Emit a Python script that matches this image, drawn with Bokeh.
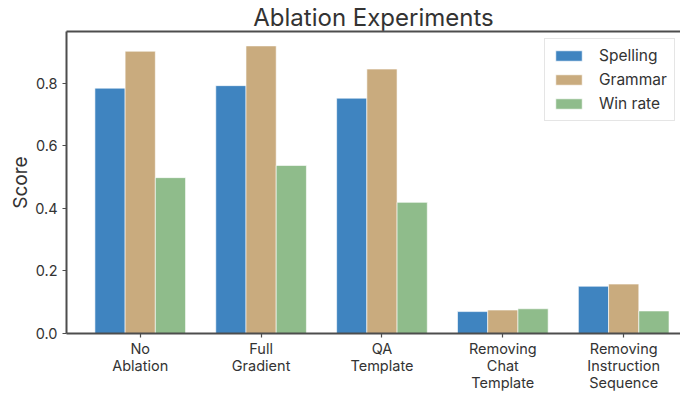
from bokeh.plotting import figure
from bokeh.models import ColumnDataSource, FixedTicker, Range1d, LinearAxis, Legend, LegendItem, PrintfTickFormatter
from bokeh.transform import dodge
from bokeh.embed import file_html
from bokeh.resources import INLINE

categories = ["No\nAblation", "Full\nGradient", "QA\nTemplate", "Removing\nChat\nTemplate", "Removing\nInstruction\nSequence"]
spelling = [0.784, 0.792, 0.752, 0.070, 0.151]
grammar = [0.902, 0.919, 0.845, 0.075, 0.158]
win_rate = [0.498, 0.537, 0.419, 0.079, 0.072]
series_names = ["Spelling", "Grammar", "Win rate"]
colors = ["#3f84c0", "#c9ab7e", "#8fbc8b"]
y_ticks = [0.0, 0.2, 0.4, 0.6, 0.8]

FONT = "Inter"
TXT = "#333333"
SPINE = "#4d4d4d"

idx = list(range(len(categories)))
src = ColumnDataSource(dict(x=idx, s=spelling, g=grammar, w=win_rate))

p = figure(width=680, height=393, output_backend="svg", toolbar_location=None,
           x_range=Range1d(-0.61, 4.47), y_range=Range1d(0, 0.965),
           title="Ablation Experiments")
p.min_border_left = 66
p.min_border_top = 0
p.min_border_bottom = 0
p.min_border_right = 0
p.outline_line_color = None
p.grid.visible = False
p.background_fill_color = "white"
p.border_fill_color = "white"

p.title.text_font = FONT
p.title.text_font_size = "24px"
p.title.text_font_style = "normal"
p.title.text_color = TXT
p.title.align = "center"
p.title.standoff = 0
p.title.offset = 12

bw = 0.25
renderers = []
for i, (col, c) in enumerate(zip(["s", "g", "w"], colors)):
    r = p.vbar(x=dodge("x", (i - 1) * bw, range=p.x_range), top=col, width=bw, bottom=0,
               source=src, fill_color=c, line_color="white", line_alpha=0.6, line_width=1)
    renderers.append(r)

xa = p.xaxis[0]
xa.ticker = FixedTicker(ticks=idx)
xa.major_label_overrides = {i: lab for i, lab in zip(idx, categories)}
ya = p.yaxis[0]
ya.ticker = FixedTicker(ticks=y_ticks)
ya.formatter = PrintfTickFormatter(format="%.1f")
ya.axis_label = "Score"
for ax in (xa, ya):
    ax.axis_line_color = SPINE
    ax.axis_line_width = 2
    ax.major_tick_line_color = SPINE
    ax.major_tick_line_width = 1.2
    ax.major_tick_out = 4
    ax.major_tick_in = 0
    ax.minor_tick_line_color = None
    ax.major_label_text_font = FONT
    ax.major_label_text_font_size = "14.5px"
    ax.major_label_text_color = TXT
    ax.axis_label_text_font = FONT
    ax.axis_label_text_font_size = "19px"
    ax.axis_label_text_font_style = "normal"
    ax.axis_label_text_color = TXT
xa.major_label_standoff = 2
xa.major_label_text_line_height = 1.0
xa.axis_label_standoff = 0
ya.major_label_standoff = 5
ya.axis_label_standoff = 0

top = LinearAxis(ticker=FixedTicker(ticks=[]), major_label_text_font_size="0px",
                 axis_line_color=SPINE, axis_line_width=2, minor_tick_line_color=None,
                 major_tick_line_color=None, major_tick_out=0, major_label_standoff=0,
                 axis_label_standoff=0)
p.add_layout(top, "above")

legend = Legend(items=[LegendItem(label=n, renderers=[r]) for n, r in zip(series_names, renderers)],
                location=(478, 212))
legend.label_text_font = FONT
legend.label_text_font_size = "15.5px"
legend.label_text_color = TXT
legend.glyph_width = 33
legend.glyph_height = 13
legend.label_height = 18
legend.spacing = 5
legend.padding = 7
legend.margin = 0
legend.label_standoff = 14
legend.border_line_color = "#cccccc"
legend.border_line_width = 1
legend.background_fill_alpha = 0.9
p.add_layout(legend)

open("out.html", "w").write(file_html(p, INLINE))
